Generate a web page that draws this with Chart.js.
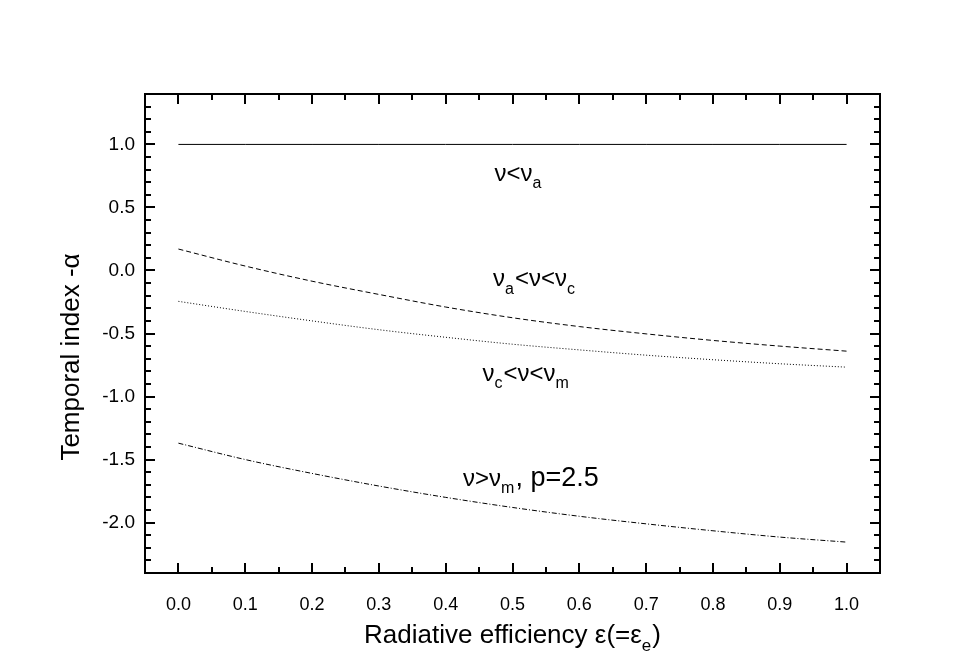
<!DOCTYPE html>
<html><head><meta charset="utf-8">
<script src="https://cdn.jsdelivr.net/npm/chart.js@4.4.1/dist/chart.umd.min.js"></script>
<style>html,body{margin:0;padding:0;background:#fff;}#wrap{width:969px;height:671px;}</style>
</head><body><div id="wrap"><canvas id="c" width="969" height="671"></canvas></div>
<script>
// ---- data ----
const epsilon = [0.0, 0.1, 0.2, 0.3, 0.4, 0.5, 0.6, 0.7, 0.8, 0.9, 1.0];
const alphaBelowNuA = [1.0, 1.0, 1.0, 1.0, 1.0, 1.0, 1.0, 1.0, 1.0, 1.0, 1.0];
const alphaNuAtoNuC = [0.17, 0.035, -0.085, -0.19, -0.29, -0.375, -0.445, -0.503, -0.555, -0.60, -0.64];
const alphaNuCtoNuM = [-0.245, -0.325, -0.40, -0.47, -0.53, -0.585, -0.63, -0.672, -0.708, -0.74, -0.767];
const alphaAboveNuM = [-1.37, -1.50, -1.61, -1.71, -1.80, -1.88, -1.95, -2.01, -2.065, -2.115, -2.155];
const xTickValues = [0.0, 0.1, 0.2, 0.3, 0.4, 0.5, 0.6, 0.7, 0.8, 0.9, 1.0];
const xTickLabels = ['0.0','0.1','0.2','0.3','0.4','0.5','0.6','0.7','0.8','0.9','1.0'];
const yTickValues = [-2.0, -1.5, -1.0, -0.5, 0.0, 0.5, 1.0];
const yTickLabels = ['-2.0','-1.5','-1.0','-0.5','0.0','0.5','1.0'];
const xTitle = [['Radiative efficiency \u03b5(=\u03b5', false], ['e', true], [')', false]];
const yTitle = 'Temporal index -\u03b1';
const curveLabels = [
  {x: 0.473, y: 0.71,  parts: [['\u03bd<\u03bd', false], ['a', true]]},
  {x: 0.471, y: -0.127, parts: [['\u03bd', false], ['a', true], ['<\u03bd<\u03bd', false], ['c', true]]},
  {x: 0.455, y: -0.878, parts: [['\u03bd', false], ['c', true], ['<\u03bd<\u03bd', false], ['m', true]]},
  {x: 0.426, y: -1.712, parts: [['\u03bd>\u03bd', false], ['m', true], [', p=2.5', false, 27]]}
];

const FONT = '"Liberation Sans", Arial, Helvetica, sans-serif';
const LABEL_SIZE = 24;
const pts = ys => epsilon.map((x, i) => ({x: x, y: ys[i]}));

const frame = {
  id: 'frame',
  afterDraw(chart) {
    const ctx = chart.ctx, xs = chart.scales.x, ys = chart.scales.y, a = chart.chartArea;
    ctx.save();
    ctx.strokeStyle = '#000';
    ctx.lineWidth = 2;
    ctx.strokeRect(a.left, a.top, a.right - a.left, a.bottom - a.top);
    const tick = (x1, y1, x2, y2) => { ctx.beginPath(); ctx.moveTo(x1, y1); ctx.lineTo(x2, y2); ctx.stroke(); };
    for (let k = -1; k <= 21; k++) {
      const px = Math.round(xs.getPixelForValue(k * 0.05));
      if (px <= a.left + 1 || px >= a.right - 1) continue;
      const L = k % 2 === 0 ? 10 : 6;
      tick(px, a.bottom, px, a.bottom - L);
      tick(px, a.top, px, a.top + L);
    }
    for (let k = -24; k <= 14; k++) {
      const py = Math.round(ys.getPixelForValue(k * 0.1));
      if (py <= a.top + 1 || py >= a.bottom - 1) continue;
      const L = k % 5 === 0 ? 10 : 6;
      tick(a.left, py, a.left + L, py);
      tick(a.right, py, a.right - L, py);
    }
    ctx.fillStyle = '#000';
    ctx.textBaseline = 'alphabetic';
    const fsOf = (p, size) => p[2] || (p[1] ? Math.round(size * 0.66) : size);
    const drawParts = (x0, y0, parts, size) => {
      let x = x0;
      parts.forEach(p => {
        ctx.font = fsOf(p, size) + 'px ' + FONT;
        ctx.textAlign = 'left';
        ctx.fillText(p[0], x, y0 + (p[1] ? size * 0.3 : 0));
        x += ctx.measureText(p[0]).width + (p[1] ? 1 : 0);
      });
    };
    const measureParts = (parts, size) => {
      let w = 0;
      parts.forEach(p => {
        ctx.font = fsOf(p, size) + 'px ' + FONT;
        w += ctx.measureText(p[0]).width + (p[1] ? 1 : 0);
      });
      return w;
    };
    curveLabels.forEach(l => {
      drawParts(xs.getPixelForValue(l.x), ys.getPixelForValue(l.y), l.parts, LABEL_SIZE);
    });
    const tsize = 26;
    const w = measureParts(xTitle, tsize);
    drawParts((a.left + a.right) / 2 - w / 2, 643, xTitle, tsize);
    ctx.translate(79, 357);
    ctx.rotate(-Math.PI / 2);
    ctx.font = tsize + 'px ' + FONT;
    ctx.textAlign = 'center';
    ctx.fillText(yTitle, 0, 0);
    ctx.restore();
  }
};

new Chart(document.getElementById('c'), {
  type: 'line',
  data: {
    datasets: [
      {data: pts(alphaBelowNuA), borderColor: '#000', borderWidth: 1, pointRadius: 0},
      {data: pts(alphaNuAtoNuC), borderColor: '#000', borderWidth: 1, borderDash: [5, 3], pointRadius: 0, cubicInterpolationMode: 'monotone'},
      {data: pts(alphaNuCtoNuM), borderColor: '#000', borderWidth: 1, borderDash: [1, 2], pointRadius: 0, cubicInterpolationMode: 'monotone'},
      {data: pts(alphaAboveNuM), borderColor: '#000', borderWidth: 1, borderDash: [5, 2, 1, 2], pointRadius: 0, cubicInterpolationMode: 'monotone'}
    ]
  },
  options: {
    responsive: false,
    animation: false,
    devicePixelRatio: 1,
    layout: {padding: {top: 94, right: 89, left: 0, bottom: 0}},
    plugins: {legend: {display: false}, tooltip: {enabled: false}},
    scales: {
      x: {
        type: 'linear', min: -0.05, max: 1.05,
        grid: {display: false, drawTicks: false}, border: {display: false},
        afterBuildTicks: s => { s.ticks = xTickValues.map(v => ({value: v})); },
        afterFit: s => { s.height = 98; },
        ticks: {padding: 21, color: '#000', font: {family: FONT, size: 18},
          callback: v => xTickLabels[xTickValues.findIndex(t => Math.abs(t - v) < 1e-9)]}
      },
      y: {
        type: 'linear', min: -2.4, max: 1.4,
        grid: {display: false, drawTicks: false}, border: {display: false},
        afterBuildTicks: s => { s.ticks = yTickValues.map(v => ({value: v})); },
        afterFit: s => { s.width = 145; },
        ticks: {padding: 10, color: '#000', font: {family: FONT, size: 19},
          callback: v => yTickLabels[yTickValues.findIndex(t => Math.abs(t - v) < 1e-9)]}
      }
    }
  },
  plugins: [frame]
});
</script></body></html>
